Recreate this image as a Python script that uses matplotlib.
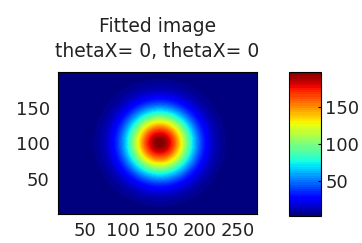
import numpy as np
import matplotlib
matplotlib.use("Agg")
import matplotlib.pyplot as plt

# Fitted 2D gaussian parameters
x_range = [15, 275]          # image column coordinates
y_range = [1, 200]           # image row coordinates
center_x = 148
center_y = 100
sigma_x = 30
sigma_y = 31
amplitude = 195
offset = 2

title_lines = ["Fitted image", "thetaX= 0, thetaX= 0"]
x_ticks = [50, 100, 150, 200, 250]
y_ticks = [50, 100, 150]
cbar_ticks = [50, 100, 150]

# build the fitted image on the pixel grid
xs = np.arange(x_range[0], x_range[1] + 1)
ys = np.arange(y_range[0], y_range[1] + 1)
X, Y = np.meshgrid(xs, ys)
img = offset + amplitude * np.exp(-((X - center_x) ** 2 / (2 * sigma_x ** 2)
                                    + (Y - center_y) ** 2 / (2 * sigma_y ** 2)))

plt.rcParams['font.family'] = ['DejaVu Sans']

fig = plt.figure(figsize=(3.62, 2.43), dpi=100)
fig.patch.set_facecolor('white')

W, H = 362.0, 243.0
ax = fig.add_axes([58 / W, (H - 214) / H, 199 / W, 142 / H])
cax = fig.add_axes([289 / W, (H - 216) / H, 32 / W, 144 / H])

cmap = plt.get_cmap('jet', 64)
im = ax.imshow(img, cmap=cmap, origin='lower', aspect='auto',
               extent=[xs[0] - 0.5, xs[-1] + 0.5, ys[0] - 0.5, ys[-1] + 0.5],
               vmin=offset, vmax=offset + amplitude, interpolation='bilinear')

ax.set_xticks(x_ticks)
ax.set_yticks(y_ticks)
ax.tick_params(length=0, labelsize=13, pad=6, labelcolor='#222222')
for s in ax.spines.values():
    s.set_color('black')
    s.set_linewidth(0.8)

ax.set_title("\n".join(title_lines), fontsize=13.5, pad=11, linespacing=1.35,
             color='#222222')

cb = fig.colorbar(im, cax=cax)
cb.set_ticks(cbar_ticks)
cax.tick_params(direction='in', length=2, width=0.8, labelsize=13, pad=3,
                labelcolor='#222222')
cb.outline.set_edgecolor('black')
cb.outline.set_linewidth(0.8)

fig.savefig("out.png", dpi=100)
